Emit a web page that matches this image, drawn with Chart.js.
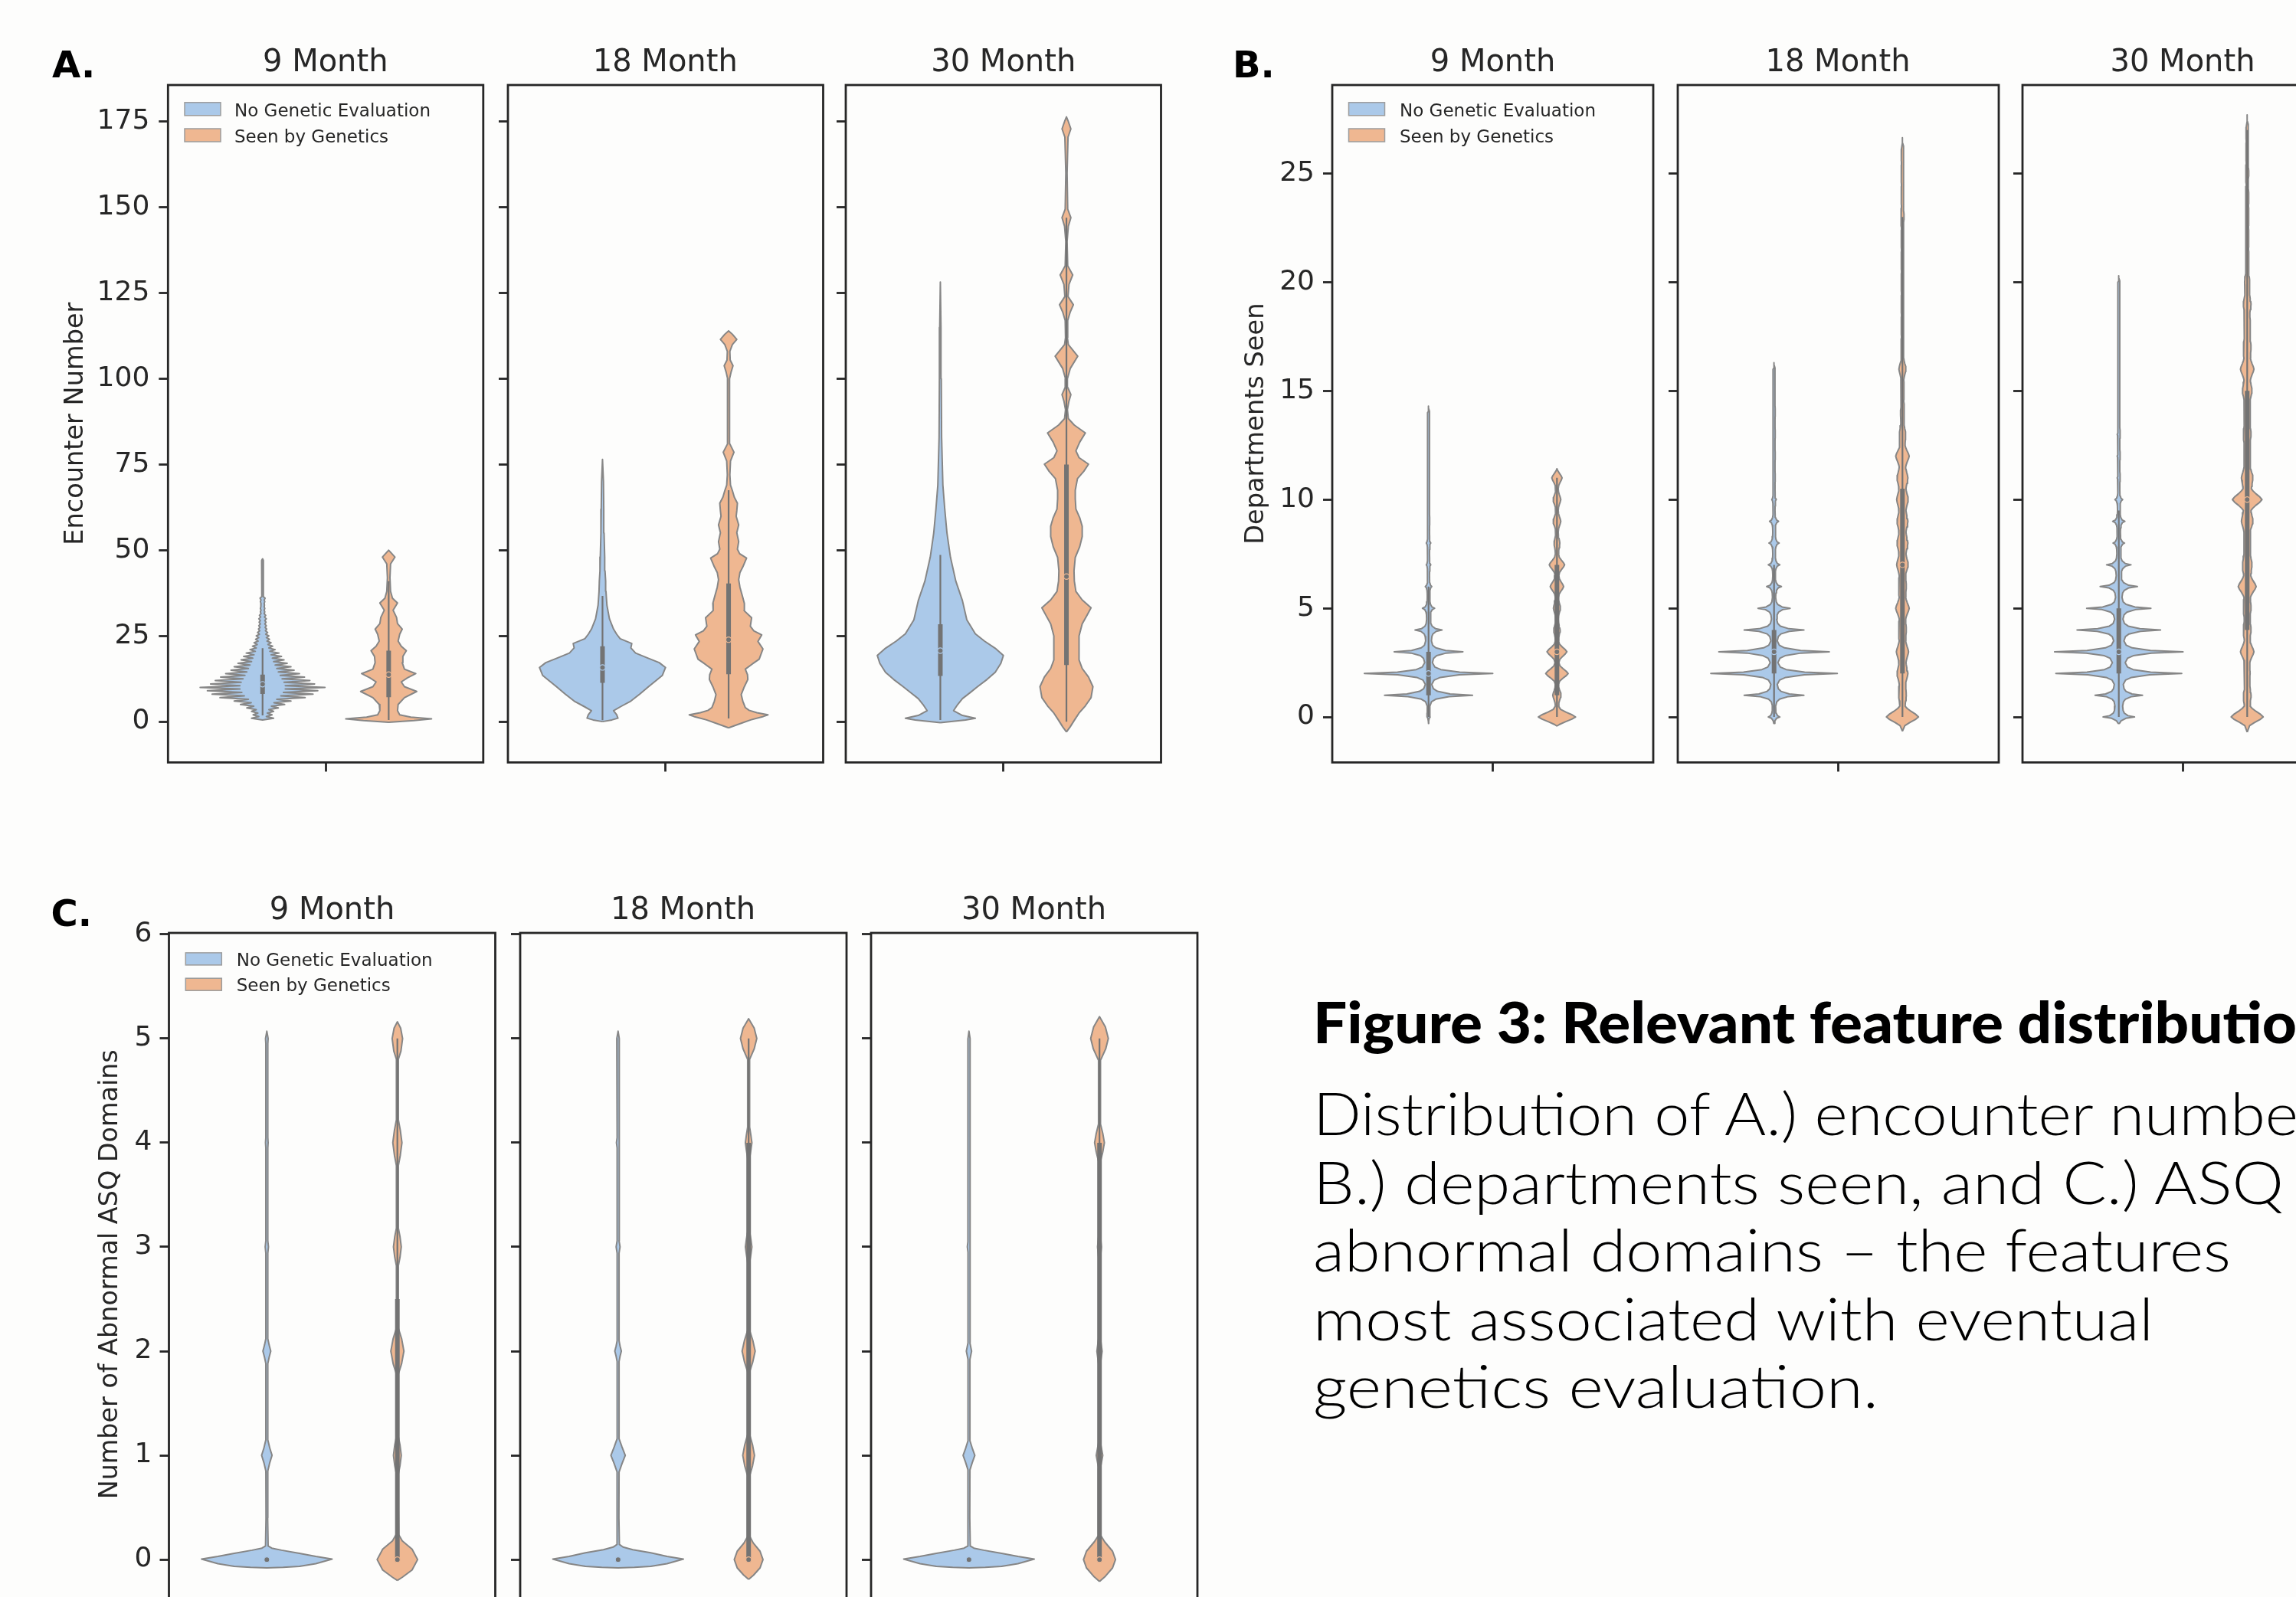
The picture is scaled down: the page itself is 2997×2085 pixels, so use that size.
<!DOCTYPE html>
<html>
<head>
<meta charset="utf-8">
<script src="https://cdn.jsdelivr.net/npm/chart.js@4.4.1/dist/chart.umd.min.js"></script>
<style>
  html, body { margin:0; padding:0; background:#fdfdfc; overflow:hidden; }
  body { width:2997px; height:2085px; position:relative; }
  canvas { position:absolute; z-index:1; }
  #overlay { position:absolute; left:0; top:0; z-index:2; }
</style>
</head>
<body>
<svg id="overlay" width="2997" height="2085" xmlns="http://www.w3.org/2000/svg"></svg>
<script>
// ---------------- DATA ----------------
const MONTHS = ['9 Month', '18 Month', '30 Month'];
const GROUPS = ['No Genetic Evaluation', 'Seen by Genetics'];
const Y_TITLES = ['Encounter Number', 'Departments Seen', 'Number of Abnormal ASQ Domains'];
const TICKS_A = [0, 25, 50, 75, 100, 125, 150, 175];
const TICKS_B = [0, 5, 10, 15, 20, 25];
const TICKS_C = [0, 1, 2, 3, 4, 5, 6];

// Violin density: [value, half-width in x-axis units]
// or per-integer levels {start, peaks, valleys}
const A_9_NO = {start: 1,
  peaks: [0.035,0.03,0.035,0.05,0.07,0.09,0.135,0.16,0.175,0.198,
          0.165,0.15,0.133,0.117,0.1,0.09,0.078,0.068,0.06,0.052,
          0.04,0.032,0.027,0.022,0.02,0.016,0.013,0.012,0.011,0.012,
          0.01,0.007,0.007,0.006,0.007,0.008,0.003,0.003,0.003,0.003,
          0.003,0.003,0.003,0.003,0.003,0.003,0.003],
  valleys: [0.012,0.015,0.02,0.028,0.036,0.045,0.058,0.066,0.072,0.072,
            0.068,0.062,0.056,0.05,0.045,0.04,0.035,0.031,0.027,0.023,
            0.02,0.017,0.014,0.012,0.01,0.009,0.008,0.007,0.007,0.006,
            0.005,0.005,0.005,0.005,0.005,0.002,0.002,0.002,0.002,0.002,
            0.002,0.002,0.002,0.002,0.002,0.002]};
const A_9_SEEN = [[-0.2,0],[0.3,0.08],[0.8,0.136],[1.3,0.07],[2,0.035],[3.2,0.028],[5,0.03],[7,0.05],[8.8,0.089],[10.2,0.05],[11.6,0.04],[12.8,0.06],[14,0.086],[15.3,0.05],[17.2,0.043],[19,0.045],[20.7,0.056],[22,0.04],[23.5,0.03],[25.5,0.035],[27,0.043],[28.6,0.028],[30.4,0.025],[32.5,0.014],[34.6,0.028],[36,0.012],[38,0.006],[42,0.004],[46,0.006],[48,0.02],[49.2,0.008],[50,0]];
const A_18_NO = [[0,0],[0.5,0.03],[1,0.049],[2,0.045],[3.2,0.035],[4.5,0.06],[6,0.09],[8,0.118],[10.2,0.146],[12,0.17],[13.5,0.19],[15.8,0.2],[17.2,0.18],[18.5,0.145],[20,0.105],[21.5,0.09],[22.8,0.093],[24.2,0.056],[25.5,0.045],[27,0.035],[30,0.022],[34,0.014],[38,0.011],[41,0.01],[44,0.008],[48,0.007],[55,0.005],[62,0.004],[70,0.003],[76.5,0]];
const A_18_SEEN = [[-1.8,0],[-0.8,0.03],[0.5,0.07],[1.5,0.11],[2,0.125],[2.6,0.09],[3.3,0.065],[4.1,0.053],[6,0.045],[7.9,0.04],[10.2,0.05],[12.3,0.061],[13.7,0.06],[15.3,0.053],[16.8,0.075],[18.2,0.097],[21.2,0.109],[23.4,0.093],[25.3,0.105],[26.5,0.08],[27.8,0.069],[30.3,0.073],[32.4,0.049],[34.5,0.05],[36.2,0.045],[39.2,0.036],[41.4,0.032],[43.5,0.036],[45.1,0.045],[47.7,0.057],[49,0.035],[50.3,0.028],[52.5,0.032],[55.1,0.026],[57.4,0.032],[59.9,0.024],[61.5,0.026],[63.7,0.028],[65.5,0.018],[67.4,0.012],[69,0.006],[72,0.004],[76,0.006],[78.6,0.017],[81,0.004],[90,0.003],[100,0.003],[102,0.008],[103.8,0.014],[105.5,0.005],[108,0.004],[110,0.012],[111.5,0.026],[113,0.012],[114,0]];
const A_30_NO = [[-0.3,0],[0.5,0.08],[1,0.111],[1.8,0.07],[3.2,0.042],[5,0.055],[6.7,0.07],[8.5,0.095],[10.2,0.118],[12.3,0.148],[14.4,0.174],[17,0.192],[19.3,0.2],[21.4,0.174],[23.5,0.14],[25.6,0.111],[29.7,0.084],[35.3,0.07],[41,0.049],[48,0.032],[55,0.021],[62,0.014],[69,0.008],[83,0.004],[100,0.003],[115,0.002],[128.2,0]];
const A_30_SEEN = [[-3,0],[-1.5,0.012],[0.4,0.025],[2.5,0.04],[4.6,0.06],[7,0.078],[10.2,0.084],[13,0.07],[15.5,0.05],[18,0.04],[21.4,0.04],[25,0.04],[28.5,0.05],[31,0.065],[33.2,0.078],[35.5,0.05],[38,0.03],[41,0.025],[44,0.024],[47.9,0.028],[51,0.042],[54,0.05],[57,0.05],[59.5,0.042],[62,0.03],[65,0.028],[67.5,0.028],[70.9,0.035],[73,0.055],[75.1,0.07],[77,0.04],[79,0.03],[81.5,0.042],[84.2,0.06],[86.5,0.025],[88.4,0.006],[91,0.003],[93.5,0.008],[95.4,0.014],[97.5,0.004],[100,0.003],[103,0.012],[106.6,0.036],[110,0.006],[112,0.003],[117,0.004],[119.5,0.012],[121.6,0.022],[124,0.005],[127.5,0.008],[130.3,0.02],[133,0.004],[140,0.002],[144.5,0.006],[147,0.014],[149.5,0.004],[160,0.002],[170.5,0.005],[172.9,0.014],[175.3,0.005],[176.4,0]];

const B_9_NO = {start: 0,
  peaks: [0.005,0.137,0.2,0.107,0.042,0.019,0.01,0.007,0.007,0.004,0.003,0.003,0.003,0.003,0.003],
  valleys: [0.004,0.01,0.012,0.009,0.006,0.004,0.003,0.003,0.003,0.003,0.003,0.003,0.003,0.003]};
const B_9_SEEN = {start: 0,
  peaks: [0.058,0.013,0.035,0.031,0.01,0.011,0.021,0.024,0.009,0.012,0.012,0.016],
  valleys: [0.005,0.005,0.006,0.005,0.004,0.005,0.006,0.005,0.004,0.004,0.004]};
const B_18_NO = {start: 0,
  peaks: [0.018,0.093,0.197,0.172,0.093,0.05,0.023,0.018,0.016,0.014,0.007,0.004,0.004,0.004,0.004,0.003,0.003],
  valleys: [0.005,0.01,0.012,0.01,0.008,0.005,0.004,0.004,0.004,0.003,0.003,0.003,0.003,0.003,0.003,0.003]};
const B_18_SEEN = {start: 0,
  peaks: [0.05,0.012,0.017,0.019,0.012,0.021,0.012,0.018,0.017,0.017,0.018,0.017,0.021,0.01,0.006,0.005,0.011,0.004,0.004,0.004,0.004,0.004,0.004,0.005,0.004,0.004,0.004],
  valleys: [0.008,0.01,0.011,0.01,0.01,0.01,0.01,0.011,0.011,0.011,0.011,0.01,0.008,0.005,0.004,0.004,0.004,0.003,0.003,0.003,0.003,0.003,0.003,0.003,0.003,0.003]};
const B_30_NO = {start: 0,
  peaks: [0.049,0.074,0.196,0.2,0.13,0.1,0.058,0.038,0.018,0.019,0.012,0.005,0.005,0.005,0.003,0.003,0.003,0.003,0.003,0.003,0.003],
  valleys: [0.012,0.014,0.02,0.016,0.013,0.01,0.008,0.006,0.005,0.004,0.003,0.003,0.003,0.003,0.003,0.003,0.003,0.003,0.003,0.003]};
const B_30_SEEN = {start: 0,
  peaks: [0.05,0.012,0.009,0.021,0.012,0.012,0.028,0.015,0.01,0.018,0.046,0.018,0.01,0.012,0.01,0.015,0.021,0.012,0.01,0.012,0.008,0.005,0.005,0.005,0.005,0.005,0.004,0.004],
  valleys: [0.009,0.008,0.008,0.009,0.009,0.01,0.011,0.01,0.01,0.012,0.013,0.01,0.009,0.009,0.009,0.01,0.01,0.009,0.008,0.007,0.005,0.004,0.004,0.004,0.003,0.003,0.003]};

const C_9_NO = [[-0.08,0],[-0.075,0.05],[-0.065,0.1],[-0.04,0.15],[0.005,0.2],[0.03,0.15],[0.06,0.1],[0.09,0.045],[0.11,0.015],[0.13,0.004],[0.4,0.0025],[0.85,0.003],[0.93,0.009],[1,0.016],[1.07,0.009],[1.15,0.003],[1.88,0.003],[1.94,0.007],[2,0.012],[2.06,0.007],[2.12,0.003],[2.94,0.003],[3,0.005],[3.06,0.003],[3.95,0.003],[4,0.004],[4.05,0.003],[4.95,0.003],[5,0.004],[5.07,0]];
const C_9_SEEN = [[-0.2,0],[-0.17,0.015],[-0.1,0.045],[0,0.062],[0.1,0.045],[0.18,0.015],[0.24,0.004],[0.5,0.003],[0.82,0.003],[0.9,0.008],[1,0.012],[1.1,0.008],[1.18,0.003],[1.78,0.003],[1.88,0.013],[2,0.02],[2.12,0.013],[2.22,0.003],[2.82,0.003],[2.9,0.008],[3,0.012],[3.1,0.008],[3.18,0.003],[3.78,0.003],[3.88,0.009],[4,0.014],[4.12,0.009],[4.22,0.003],[4.8,0.003],[4.88,0.011],[5,0.016],[5.1,0.01],[5.16,0]];
const C_18_NO = [[-0.08,0],[-0.075,0.05],[-0.065,0.1],[-0.04,0.15],[0.005,0.2],[0.03,0.15],[0.065,0.1],[0.095,0.045],[0.12,0.015],[0.145,0.004],[0.4,0.0025],[0.84,0.003],[0.92,0.012],[1,0.022],[1.08,0.012],[1.16,0.003],[1.9,0.003],[1.95,0.006],[2,0.01],[2.05,0.006],[2.1,0.003],[2.94,0.003],[3,0.006],[3.06,0.003],[3.95,0.003],[4,0.005],[4.05,0.003],[4.95,0.003],[5,0.004],[5.07,0]];
const C_18_SEEN = [[-0.19,0],[-0.15,0.015],[-0.08,0.035],[0,0.044],[0.08,0.035],[0.16,0.014],[0.22,0.004],[0.5,0.003],[0.8,0.003],[0.9,0.012],[1,0.018],[1.1,0.012],[1.2,0.003],[1.8,0.003],[1.9,0.013],[2,0.02],[2.1,0.013],[2.2,0.003],[2.85,0.003],[2.93,0.007],[3,0.01],[3.07,0.007],[3.15,0.003],[3.85,0.003],[3.93,0.007],[4,0.01],[4.07,0.007],[4.15,0.003],[4.8,0.003],[4.9,0.017],[5,0.025],[5.1,0.017],[5.19,0]];
const C_30_NO = [[-0.08,0],[-0.075,0.05],[-0.065,0.1],[-0.04,0.15],[0.005,0.2],[0.03,0.15],[0.06,0.1],[0.09,0.045],[0.11,0.015],[0.13,0.004],[0.4,0.0025],[0.86,0.003],[0.93,0.01],[1,0.018],[1.07,0.01],[1.14,0.003],[1.92,0.003],[2,0.008],[2.08,0.003],[2.95,0.003],[3,0.005],[3.05,0.003],[3.96,0.003],[4,0.004],[4.04,0.003],[5,0.003],[5.07,0]];
const C_30_SEEN = [[-0.21,0],[-0.16,0.018],[-0.08,0.04],[0,0.049],[0.08,0.04],[0.17,0.016],[0.23,0.004],[0.5,0.003],[0.88,0.003],[1,0.01],[1.12,0.003],[1.88,0.003],[2,0.008],[2.12,0.003],[2.9,0.003],[3,0.006],[3.1,0.003],[3.82,0.003],[3.91,0.01],[4,0.015],[4.09,0.01],[4.18,0.003],[4.79,0.003],[4.9,0.019],[5,0.027],[5.11,0.018],[5.21,0]];

// Inner box stats per month: [whisker low, q1, median, q3, whisker high]
const A_STATS_NO   = [[1.8,8.1,10.9,13.7,21.4],[0.4,11.3,15.8,22,36.7],[0.5,13.3,20.7,28.4,48.6]];
const A_STATS_SEEN = [[0.5,7.1,13.7,20.7,41],[0.9,13.8,23.9,40.3,67.5],[0,16.5,42.3,75,147]];
const B_STATS_NO   = [[0,1,2,3,6],[0,2,3,4,7],[0,2,3,5,9.5]];
const B_STATS_SEEN = [[0,1,3,7,11],[0,2,7,10.5,23],[0,4,10,15,27]];
const C_STATS_NO   = [[0,0,0,0,0],[0,0,0,0,0],[0,0,0,0,0]];
const C_STATS_SEEN = [[0,0,0,2.5,5],[0,0,0,4,5],[0,0,0,4,5]];

const FIG_TITLE = 'Figure 3: Relevant feature distributio';
const FIG_LINES = ['Distribution of A.) encounter numbe', 'B.) departments seen, and C.) ASQ',
                   'abnormal domains \u2013 the features', 'most associated with eventual', 'genetics evaluation.'];

// ---------------- STYLE / LAYOUT ----------------
const FILL = ['#abc9e9', '#efb791'];
const EDGE = '#868686';
const INNER = '#737373';
const INK = '#262626';
const SPIKE_THIN = [[0.06,0.45],[0.18,0.14],[0.3,0.04]];
const SPIKE_ROUND = [[0.1,0.8],[0.22,0.45],[0.35,0.12]];
const SPIKE_ROUND_WIDE = [[0.12,0.8],[0.26,0.45],[0.4,0.15]];

function spikeOutline(v, prof, end) {
  const pts = [], pk = v.peaks, vl = v.valleys, n = pk.length;
  pts.push([v.start - end, 0]);
  for (let i = 0; i < n; i++) {
    const k = v.start + i;
    const below = i === 0 ? 0 : vl[i - 1];
    const above = i === n - 1 ? 0 : vl[i];
    for (let j = prof.length - 1; j >= 0; j--) pts.push([k - prof[j][0], below + (pk[i] - below) * prof[j][1]]);
    pts.push([k, pk[i]]);
    for (let j = 0; j < prof.length; j++) pts.push([k + prof[j][0], above + (pk[i] - above) * prof[j][1]]);
    if (i < n - 1) pts.push([k + 0.5, vl[i]]);
  }
  pts.push([v.start + n - 1 + end, 0]);
  return pts;
}

const PANELS = [
  { letter: 'A.', letterX: 68, letterY: 100.6, yTitle: Y_TITLES[0], yTitleSize: 33.6,
    yMin: -11.9, yMax: 185.7, ticks: TICKS_A, top: 110.6, bottom: 995, titleY: 93,
    frames: [[219, 630.5], [662.5, 1074], [1104, 1515.5]], firstAxisW: 140.3, tickPad: 12,
    legend: { x: 241, y: [133.8, 168], h: 17, tx: 306, base: [151.7, 185.5] },
    shapes: [[spikeOutline(A_9_NO, [], 0.5), A_9_SEEN], [A_18_NO, A_18_SEEN], [A_30_NO, A_30_SEEN]],
    stats: [A_STATS_NO, A_STATS_SEEN] },
  { letter: 'B.', letterX: 1609, letterY: 100.6, yTitle: Y_TITLES[1], yTitleSize: 33.6,
    yMin: -2.09, yMax: 29.07, ticks: TICKS_B, top: 110.6, bottom: 995, titleY: 93,
    frames: [[1739, 2158], [2189.5, 2608.5], [2639.5, 3058.5]], firstAxisW: 119, tickPad: 11,
    legend: { x: 1760.5, y: [133.8, 168], h: 17, tx: 1827, base: [151.7, 185.5] },
    shapes: [[spikeOutline(B_9_NO, SPIKE_THIN, 0.2), spikeOutline(B_9_SEEN, SPIKE_ROUND, 0.42)],
             [spikeOutline(B_18_NO, SPIKE_THIN, 0.25), spikeOutline(B_18_SEEN, SPIKE_ROUND_WIDE, 0.65)],
             [spikeOutline(B_30_NO, SPIKE_THIN, 0.3), spikeOutline(B_30_SEEN, SPIKE_ROUND_WIDE, 0.7)]],
    stats: [B_STATS_NO, B_STATS_SEEN] },
  { letter: 'C.', letterX: 66.5, letterY: 1209, yTitle: Y_TITLES[2], yTitleSize: 33.4,
    yMin: -0.54, yMax: 6.013, ticks: TICKS_C, top: 1218.4, bottom: 2110, titleY: 1200,
    frames: [[220.5, 646.5], [678.5, 1104.5], [1136.5, 1562.5]], firstAxisW: 96.5, tickPad: 10,
    legend: { x: 242.3, y: [1243.9, 1277.2], h: 16, tx: 308.7, base: [1260.5, 1294.3] },
    shapes: [[C_9_NO, C_9_SEEN], [C_18_NO, C_18_SEEN], [C_30_NO, C_30_SEEN]],
    stats: [C_STATS_NO, C_STATS_SEEN] }
];

Chart.defaults.font.family = "'DejaVu Sans', sans-serif";
Chart.defaults.color = INK;

const framePlugin = {
  id: 'frame',
  afterDatasetsDraw(chart) {
    const { ctx, chartArea: a } = chart;
    ctx.save();
    ctx.strokeStyle = INK;
    ctx.lineWidth = 2.8;
    ctx.strokeRect(a.left, a.top, a.right - a.left, a.bottom - a.top);
    ctx.restore();
  }
};

function outlineData(pts, c) {
  const right = pts.map(p => ({ x: c + p[1], y: p[0] }));
  const left = pts.slice().reverse().map(p => ({ x: c - p[1], y: p[0] }));
  const all = right.concat(left);
  all.push({ x: all[0].x, y: all[0].y });
  return all;
}

function buildSub(panel, m) {
  const [L, R] = panel.frames[m];
  const axisW = m === 0 ? panel.firstAxisW : 16;
  const padTop = 45, xH = 45;
  const left = L - axisW;
  const top = panel.top - padTop;
  const width = Math.ceil(R - left + 8);
  const height = Math.ceil(panel.bottom + xH - top);
  const padRight = width - (R - left);
  const padBottom = height - (panel.bottom + xH - top);
  const cv = document.createElement('canvas');
  cv.width = width; cv.height = height;
  cv.style.left = left + 'px'; cv.style.top = top + 'px';
  document.body.appendChild(cv);

  const datasets = [];
  [0, 1].forEach(g => {
    const c = g === 0 ? -0.2 : 0.2;
    datasets.push({ data: outlineData(panel.shapes[m][g], c), showLine: true, fill: 'shape',
      backgroundColor: FILL[g], borderColor: EDGE, borderWidth: 2, pointRadius: 0, tension: 0,
      borderJoinStyle: 'round', order: 4 });
    const s = panel.stats[g][m];
    datasets.push({ data: [{ x: c, y: s[0] }, { x: c, y: s[4] }], showLine: true, borderColor: INNER,
      borderWidth: 2.2, pointRadius: 0, order: 3 });
    datasets.push({ data: [{ x: c, y: s[1] }, { x: c, y: s[3] }], showLine: true, borderColor: INNER,
      borderWidth: 6, borderCapStyle: 'butt', pointRadius: 0, order: 2 });
    datasets.push({ data: [{ x: c, y: s[2] }], showLine: false, pointRadius: 3.6,
      pointBackgroundColor: INNER, pointBorderColor: FILL[g], pointBorderWidth: 1.2, order: 1 });
  });

  new Chart(cv, {
    type: 'scatter',
    data: { datasets },
    plugins: [framePlugin],
    options: {
      responsive: false, animation: false, devicePixelRatio: 1, events: [],
      layout: { padding: { top: padTop, right: padRight, left: 0, bottom: padBottom } },
      plugins: { legend: { display: false }, tooltip: { enabled: false } },
      scales: {
        x: { type: 'linear', min: -0.5, max: 0.5,
          afterBuildTicks: s => { s.ticks = [{ value: 0 }]; },
          afterFit: s => { s.height = xH; },
          ticks: { display: false },
          grid: { drawOnChartArea: false, drawTicks: true, tickLength: 12, tickColor: INK, tickWidth: 2.8 },
          border: { display: false } },
        y: { type: 'linear', min: panel.yMin, max: panel.yMax,
          afterBuildTicks: s => { s.ticks = panel.ticks.map(v => ({ value: v })); },
          afterFit: s => { s.width = axisW; },
          ticks: { display: m === 0, font: { size: 36 }, color: INK, padding: panel.tickPad },
          grid: { drawOnChartArea: false, drawTicks: true, tickLength: 12, tickColor: INK, tickWidth: 2.8 },
          border: { display: false },
          title: { display: m === 0, text: panel.yTitle, color: INK, padding: 0,
                   font: { size: panel.yTitleSize, lineHeight: 1.2 } } }
      }
    }
  });
}

PANELS.forEach(p => { for (let m = 0; m < 3; m++) buildSub(p, m); });

// ---------------- TEXT OVERLAY ----------------
const svg = document.getElementById('overlay');
const NS = 'http://www.w3.org/2000/svg';
function txt(s, x, y, attrs) {
  const t = document.createElementNS(NS, 'text');
  t.setAttribute('x', x); t.setAttribute('y', y);
  for (const k in attrs) t.setAttribute(k, attrs[k]);
  t.textContent = s;
  svg.appendChild(t);
  return t;
}
PANELS.forEach(p => {
  txt(p.letter, p.letterX, p.letterY, { 'font-family': 'DejaVu Sans', 'font-weight': 'bold', 'font-size': 48, fill: '#000' });
  p.frames.forEach((f, m) => {
    txt(MONTHS[m], (f[0] + f[1]) / 2, p.titleY, { 'font-family': 'DejaVu Sans', 'font-size': 40, fill: INK, 'text-anchor': 'middle' });
  });
  GROUPS.forEach((gname, g) => {
    const r = document.createElementNS(NS, 'rect');
    r.setAttribute('x', p.legend.x); r.setAttribute('y', p.legend.y[g]);
    r.setAttribute('width', 47); r.setAttribute('height', p.legend.h);
    r.setAttribute('fill', FILL[g]); r.setAttribute('stroke', '#9c9c9c'); r.setAttribute('stroke-width', 1.5);
    svg.appendChild(r);
    txt(gname, p.legend.tx, p.legend.base[g], { 'font-family': 'DejaVu Sans', 'font-size': 23, fill: INK });
  });
});

txt(FIG_TITLE, 1714, 1361.7, { 'font-family': 'Lato', 'font-weight': 900, 'font-size': 75, fill: '#000',
  textLength: 1284, lengthAdjust: 'spacingAndGlyphs' });
const LINE_BASE = [1481.7, 1571.7, 1660, 1750, 1838.3];
const LINE_LEN = [1286, 1267, 1198, 1097, 738];
FIG_LINES.forEach((s, i) => {
  txt(s, 1714, LINE_BASE[i], { 'font-family': 'Lato', 'font-weight': 300, 'font-size': 77, fill: '#000',
    textLength: LINE_LEN[i], lengthAdjust: 'spacingAndGlyphs' });
});
</script>
</body>
</html>
